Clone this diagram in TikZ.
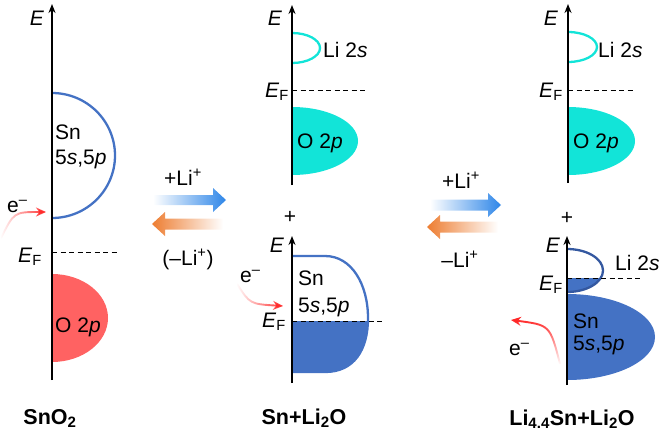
\documentclass[tikz,border=0pt]{standalone}
\usepackage{fontspec}
\setmainfont{Liberation Sans}
\usetikzlibrary{arrows.meta,fadings}
\definecolor{snblue}{RGB}{68,114,196}
\definecolor{sndark}{RGB}{52,88,160}
\definecolor{cyanband}{RGB}{18,228,216}
\definecolor{o2pred}{RGB}{255,98,98}
\definecolor{liblue}{RGB}{46,134,232}
\definecolor{liorange}{RGB}{237,125,49}
\definecolor{ered}{RGB}{255,40,40}
\tikzfading[name=fadeleft, left color=transparent!100, middle color=transparent!40, right color=transparent!0]
\tikzfading[name=fadedown, bottom color=transparent!100, middle color=transparent!40, top color=transparent!0]
\begin{document}
\begin{tikzpicture}[x=1pt,y=-1pt,
  txt/.style={font=\fontsize{21}{24}\selectfont, inner sep=0pt, anchor=base west},
  ctxt/.style={font=\fontsize{21}{24}\selectfont, inner sep=0pt, anchor=base},
  btxt/.style={font=\fontsize{21.5}{24}\selectfont\bfseries, inner sep=0pt, anchor=base},
  axisline/.style={line width=1.8pt, -{Stealth[length=9pt,width=7pt]}},
  fermi/.style={line width=1pt, dash pattern=on 5pt off 3.5pt},
  band/.style={line width=2.3pt},
  eflow/.style={ered, line width=1.9pt, -{Stealth[length=10pt,width=9pt]}}]
\useasboundingbox (0,0) rectangle (664,434);

% ---------------- panel 1: SnO2 ----------------
\coordinate (a1b) at (52,380);
\coordinate (a1t) at (52,4);
\fill[o2pred] (52,274) arc[start angle=-90,end angle=90,x radius=56,y radius=44] -- cycle;
\draw[band,snblue] (52,93) arc[start angle=-90,end angle=90,x radius=63,y radius=62.5];
\coordinate (f1a) at (52,252);
\coordinate (f1b) at (119,252);
\draw[fermi] (f1a) -- (f1b);
\draw[axisline] (a1b) -- (a1t);
\node[ctxt] (E1) at (37,25) {\textit{E}};
\node[txt] (sn1) at (55,139) {Sn};
\node[txt] (sp1) at (55,164) {5\textit{s},5\textit{p}};
\node[txt] (ef1) at (18,262) {\textit{E}\textsubscript{F}};
\node[txt] (o1) at (55,332) {O 2\textit{p}};
\node[txt] (e1) at (7,212) {e\textsuperscript{–}};
\coordinate (r1s) at (1,238);
\coordinate (r1e) at (46,212);
\draw[eflow, path fading=fadeleft] (r1s) .. controls (14,212) .. (r1e);
\node[btxt] (lab1) at (50,424) {SnO\textsubscript{2}};

% ---------------- arrows 1 ----------------
\shade[left color=white, right color=liblue] (153,195) -- (213,195) -- (213,188) -- (226,200) -- (213,212) -- (213,205) -- (153,205) -- cycle;
\shade[left color=liorange, right color=white] (152,224) -- (165,212) -- (165,218.5) -- (223,218.5) -- (223,229.5) -- (165,229.5) -- (165,236) -- cycle;
\node[ctxt] (p1) at (183,185) {+Li\textsuperscript{+}};
\node[ctxt] (m1) at (188,265) {(–Li\textsuperscript{+})};

% ---------------- panel 2 top ----------------
\coordinate (a2b) at (292,185);
\coordinate (a2t) at (292,5);
\fill[cyanband] (292,107) arc[start angle=-90,end angle=90,x radius=66,y radius=34] -- cycle;
\draw[band,cyanband] (292,33) arc[start angle=-90,end angle=90,x radius=28,y radius=15];
\draw[fermi] (292,90) coordinate (f2a) -- (368,90) coordinate (f2b);
\draw[axisline] (a2b) -- (a2t);
\node[ctxt] (E2) at (275,25) {\textit{E}};
\node[txt] (li2) at (323,57) {Li 2\textit{s}};
\node[txt] (ef2) at (265,97) {\textit{E}\textsubscript{F}};
\node[txt] (o2) at (297,148) {O 2\textit{p}};
\node[ctxt, anchor=center] (plus2) at (290,217) {+};

% ---------------- panel 2 bottom ----------------
\coordinate (a3b) at (292,383);
\coordinate (a3t) at (292,236);
\begin{scope}
  \clip (292,321) rectangle (380,380);
  \fill[snblue] (292,256) -- (325,256) .. controls (352,256) and (368,285) .. (368,318) .. controls (368,350) and (354,372) .. (325,372) -- (292,372) -- cycle;
\end{scope}
\draw[band,snblue] (292,256) -- (325,256) .. controls (352,256) and (368,285) .. (368,318) .. controls (368,350) and (354,372) .. (325,372) -- (292,372);
\draw[fermi] (292,321) coordinate (f3a) -- (382,321) coordinate (f3b);
\draw[axisline] (a3b) -- (a3t);
\node[ctxt] (E3) at (277,252) {\textit{E}};
\node[txt] (sn3) at (298,285) {Sn};
\node[txt] (sp3) at (298,312) {5\textit{s},5\textit{p}};
\node[txt] (ef3) at (262,327) {\textit{E}\textsubscript{F}};
\node[txt] (e3) at (240,282) {e\textsuperscript{–}};
\coordinate (r2s) at (237,284);
\coordinate (r2e) at (283,306);
\draw[eflow, path fading=fadeleft] (r2s) .. controls (250,304) .. (r2e);
\node[btxt] (lab2) at (304,424) {Sn+Li\textsubscript{2}O};

% ---------------- arrows 2 ----------------
\shade[left color=white, right color=liblue] (430,199.5) -- (488,199.5) -- (488,193) -- (501,205) -- (488,217) -- (488,210.5) -- (430,210.5) -- cycle;
\shade[left color=liorange, right color=white] (427,227) -- (440,215) -- (440,221.5) -- (498,221.5) -- (498,232.5) -- (440,232.5) -- (440,239) -- cycle;
\node[ctxt] (p2) at (461,188) {+Li\textsuperscript{+}};
\node[ctxt] (m2) at (460,267) {–Li\textsuperscript{+}};

% ---------------- panel 3 top ----------------
\coordinate (a4b) at (568,183);
\coordinate (a4t) at (568,4);
\fill[cyanband] (568,107) arc[start angle=-90,end angle=90,x radius=67,y radius=34] -- cycle;
\draw[band,cyanband] (568,32) arc[start angle=-90,end angle=90,x radius=29,y radius=15];
\draw[fermi] (568,90) coordinate (f4a) -- (633,90) coordinate (f4b);
\draw[axisline] (a4b) -- (a4t);
\node[ctxt] (E4) at (551,25) {\textit{E}};
\node[txt] (li4) at (598,57) {Li 2\textit{s}};
\node[txt] (ef4) at (539,97) {\textit{E}\textsubscript{F}};
\node[txt] (o4) at (573,148) {O 2\textit{p}};
\node[ctxt, anchor=center] (plus4) at (567,218) {+};

% ---------------- panel 3 bottom ----------------
\coordinate (a5b) at (567,385);
\coordinate (a5t) at (567,236);
\fill[snblue] (567,294) arc[start angle=-90,end angle=90,x radius=88,y radius=43] -- cycle;
\begin{scope}
  \clip (567,278) rectangle (610,300);
  \fill[snblue] (567,249) arc[start angle=-90,end angle=90,x radius=36,y radius=21.5] -- cycle;
\end{scope}
\draw[band,sndark] (567,249) arc[start angle=-90,end angle=90,x radius=36,y radius=21.5];
\draw[fermi] (567,278) coordinate (f5a) -- (643,278) coordinate (f5b);
\draw[axisline] (a5b) -- (a5t);
\node[ctxt] (E5) at (553,252) {\textit{E}};
\node[txt] (li5) at (615,270) {Li 2\textit{s}};
\node[txt] (ef5) at (539,290) {\textit{E}\textsubscript{F}};
\node[txt] (sn5) at (573,328) {Sn};
\node[txt] (sp5) at (573,350) {5\textit{s},5\textit{p}};
\node[txt] (e5) at (509,355) {e\textsuperscript{–}};
\coordinate (r3s) at (560,364);
\coordinate (r3e) at (511,320);
\draw[eflow, path fading=fadedown] (r3s) .. controls (550,325) .. (r3e);
\node[btxt] (lab3) at (572,425) {Li\textsubscript{4.4}Sn+Li\textsubscript{2}O};
\end{tikzpicture}
\end{document}
